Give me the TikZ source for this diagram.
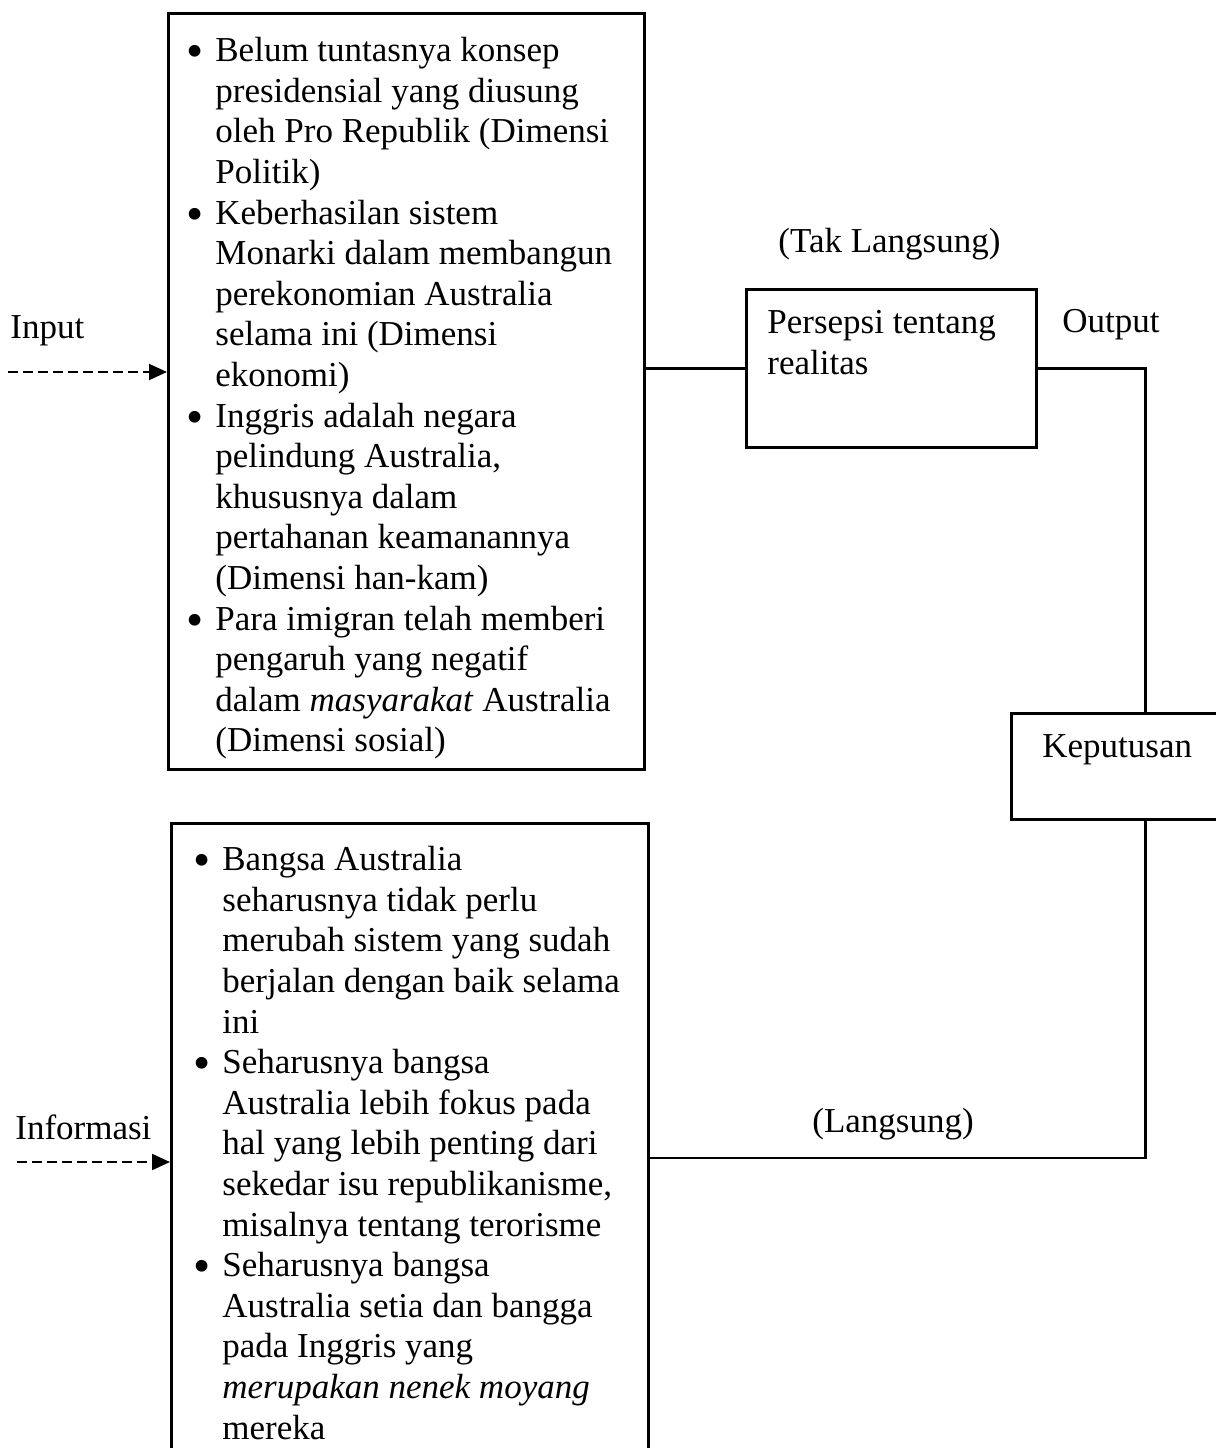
\documentclass[tikz,border=0pt]{standalone}
\usepackage{fontspec}
\setmainfont{Liberation Serif}
\usetikzlibrary{arrows.meta}

\newcommand{\butir}{\llap{\raisebox{-3pt}{\scalebox{1.4}{\textbullet}}\hspace{6pt}}}

\begin{document}
\begin{tikzpicture}[x=0.5pt, y=-0.5pt,
    every node/.style={font=\fontsize{17.5}{20.3}\selectfont},
    kotak/.style={draw, line width=1.4pt, inner sep=0pt, anchor=north west},
    isi/.style={inner sep=0pt, anchor=north west, align=left},
    label teks/.style={inner sep=0pt, anchor=base west},
    garis/.style={line width=1.4pt},
    masuk/.style={line width=1pt, dash pattern=on 5pt off 2.5pt, -{Triangle[length=9pt,width=8pt]}}]
  \path[use as bounding box, clip] (0,0) rectangle (1216,1448);

  % 1. Kotak input (atas)
  \node[kotak, minimum width=238pt, minimum height=378pt] (input) at (167,12) {};
  \node[isi] (inputteks) at (215,37) {\butir Belum tuntasnya konsep\\
    presidensial yang diusung\\
    oleh Pro Republik (Dimensi\\
    Politik)\\
    \butir Keberhasilan sistem\\
    Monarki dalam membangun\\
    perekonomian Australia\\
    selama ini (Dimensi\\
    ekonomi)\\
    \butir Inggris adalah negara\\
    pelindung Australia,\\
    khususnya dalam\\
    pertahanan keamanannya\\
    (Dimensi han-kam)\\
    \butir Para imigran telah memberi\\
    pengaruh yang negatif\\
    dalam \textit{masyarakat} Australia\\
    (Dimensi sosial)};

  % 2. Kotak informasi (bawah)
  \node[kotak, minimum width=238.5pt, minimum height=329pt] (info) at (170,822) {};
  \node[isi] (infoteks) at (222,846) {\butir Bangsa Australia\\
    seharusnya tidak perlu\\
    merubah sistem yang sudah\\
    berjalan dengan baik selama\\
    ini\\
    \butir Seharusnya bangsa\\
    Australia lebih fokus pada\\
    hal yang lebih penting dari\\
    sekedar isu republikanisme,\\
    misalnya tentang terorisme\\
    \butir Seharusnya bangsa\\
    Australia setia dan bangga\\
    pada Inggris yang\\
    \textit{merupakan nenek moyang}\\
    mereka};

  % 3. Persepsi dan keputusan
  \node[kotak, minimum width=145pt, minimum height=79pt] (persepsi) at (745,288) {};
  \node[isi] (persepsiteks) at (767,310) {Persepsi tentang\\ realitas};
  \node[kotak, minimum width=134pt, minimum height=53pt] (keputusan) at (1010,712) {};
  \node[isi] (keputusanteks) at (1042,734) {Keputusan};

  % Label
  \node[label teks] (lblinput) at (10,338) {Input};
  \node[label teks] (lblinfo) at (15,1139) {Informasi};
  \node[label teks] (taklangsung) at (778,252) {(Tak Langsung)};
  \node[label teks] (output) at (1062,332) {Output};
  \node[label teks] (langsung) at (812,1132) {(Langsung)};

  % Panah masuk (putus-putus)
  \coordinate (inputawal) at (8,372);
  \coordinate (infoawal) at (17,1162);
  \draw[masuk] (inputawal) -- (inputawal -| input.west);
  \draw[masuk] (infoawal) -- (infoawal -| info.west);

  % Garis penghubung
  \draw[garis] (input.east |- persepsi.west) -- (persepsi.west);
  \draw[garis] (persepsi.east) -| (keputusan.north);
  \draw[garis] (keputusan.south) |- ([yshift=-168pt]info.north east);
\end{tikzpicture}
\end{document}
